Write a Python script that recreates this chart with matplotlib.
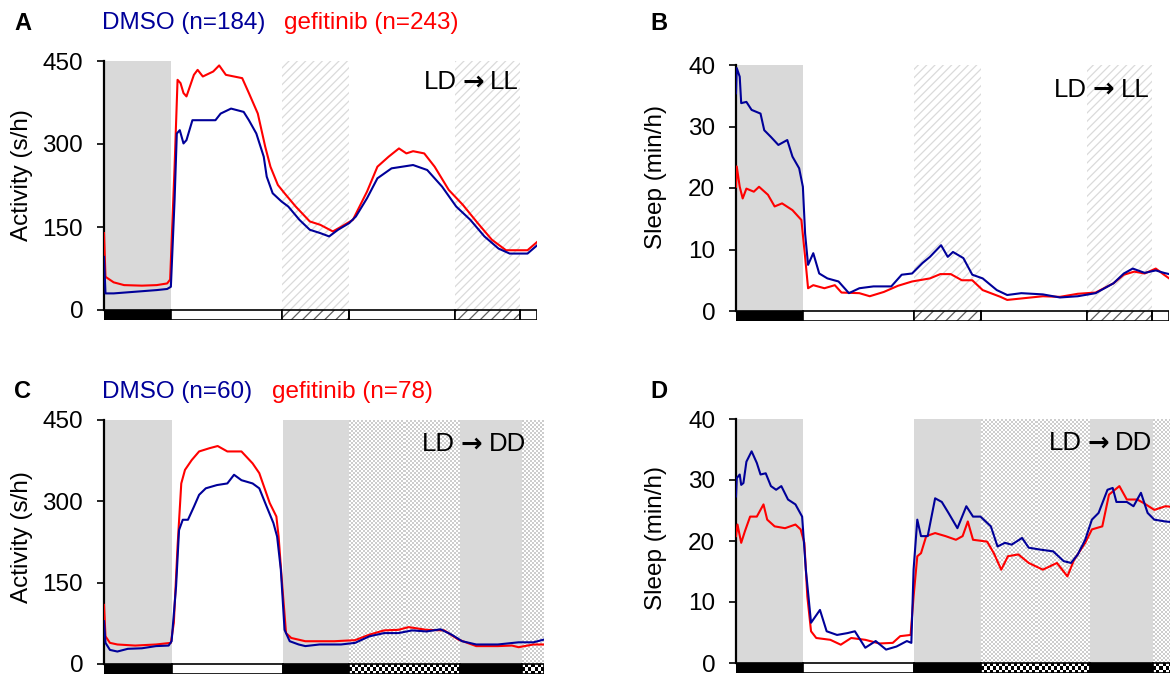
import numpy as np
import matplotlib.pyplot as plt
from matplotlib.patches import Rectangle
from matplotlib.colors import ListedColormap

plt.rcParams['font.family'] = ['Liberation Sans', 'DejaVu Sans']
plt.rcParams['hatch.linewidth'] = 0.9

W, H = 1170, 677
PXH = 7.43  # pixels per hour on the time axis
DMSO_C = '#000099'
GEF_C = '#ff0000'
GRAY = '#d9d9d9'
FS = 17.5

# ---- light regime segments (hours) ----
ll_bounds = [0, 9, 24, 33, 47.2, 56, 58.3]
ll_kinds = ['dark', 'light', 'subj_night', 'light', 'subj_night', 'light']
dd_bounds_c = [0, 9.1, 24.1, 33, 47.9, 56.3, 59.2]
dd_bounds_d = [0, 9, 24, 33, 47.6, 56.1, 59.5]
dd_kinds = ['dark', 'light', 'dark', 'subj_day', 'dark', 'subj_day']

# ---- A: activity, LD -> LL ----
a_t_dmso = [0, 0.2, 1.3, 4.2, 7.1, 8.5, 9.0, 9.5, 9.8, 10.2, 10.7, 11.1, 11.9, 15.0, 15.7,
            17.1, 18.8, 19.5, 20.5, 21.5, 21.9, 22.7, 23.9, 24.8, 26.3, 27.7, 29.1, 30.3,
            31.5, 33.0, 33.9, 35.4, 36.8, 38.7, 41.6, 43.5, 45.5, 47.4, 49.3, 51.2, 53.1,
            54.6, 57.0, 58.3]
a_dmso = [96, 30, 30, 33, 36, 38, 42, 199, 319, 325, 301, 307, 343, 343, 355, 364, 358, 343,
          319, 277, 241, 211, 196, 187, 163, 145, 139, 133, 145, 157, 169, 202, 238, 256, 262,
          253, 223, 187, 163, 133, 111, 102, 102, 117]
a_t_gef = [0, 0.2, 1.3, 2.7, 5.1, 7.1, 8.5, 8.9, 9.5, 9.9, 10.3, 10.7, 11.1, 12.1, 12.6, 13.3,
           14.7, 15.5, 16.4, 18.6, 19.5, 20.7, 21.7, 22.4, 23.4, 24.3, 25.8, 27.7, 29.1, 30.8,
           32.0, 33.5, 35.4, 36.8, 38.3, 39.7, 40.7, 41.6, 43.1, 44.5, 46.4, 48.3, 50.3, 52.2,
           54.1, 57.0, 58.3]
a_gef = [139, 60, 50, 45, 44, 45, 48, 55, 259, 416, 410, 392, 386, 425, 434, 422, 431, 442,
         425, 419, 392, 355, 295, 259, 226, 211, 187, 160, 154, 142, 151, 163, 214, 259, 277,
         292, 283, 287, 283, 259, 217, 190, 157, 127, 108, 108, 123]

# ---- B: sleep, LD -> LL ----
b_t_dmso = [0, 0.1, 0.5, 0.7, 1.4, 2.1, 3.3, 3.8, 4.7, 5.7, 6.9, 7.6, 8.5, 9.0, 9.3, 9.7, 10.4,
            11.2, 12.3, 13.8, 15.2, 16.6, 18.5, 20.9, 22.3, 23.7, 25.1, 26.1, 27.6, 28.5, 29.2,
            30.6, 31.8, 33.2, 35.1, 36.5, 38.4, 41.3, 43.6, 46.0, 48.4, 50.8, 52.2, 53.4, 55.0,
            56.5, 57.6, 58.3]
b_dmso = [35.4, 39.5, 38.1, 33.8, 34.0, 32.7, 32.1, 29.4, 28.3, 27.0, 27.8, 25.1, 23.2, 20.2,
          12.6, 7.5, 9.4, 6.1, 5.3, 4.8, 2.9, 3.7, 4.0, 4.0, 5.9, 6.1, 7.8, 8.8, 10.7, 8.8, 9.6,
          8.6, 5.9, 5.3, 3.4, 2.6, 2.9, 2.7, 2.2, 2.4, 2.9, 4.5, 6.1, 6.9, 6.2, 6.6, 6.2, 6.0]
b_t_gef = [0, 0.1, 0.5, 0.9, 1.4, 2.4, 3.1, 4.3, 5.2, 6.2, 7.6, 8.8, 9.3, 9.7, 10.4, 11.9, 13.3,
           14.2, 16.6, 18.0, 19.9, 21.8, 23.7, 26.1, 27.5, 28.9, 30.4, 31.8, 33.2, 35.6, 36.5,
           38.9, 41.3, 43.6, 46.0, 48.4, 50.8, 52.2, 53.6, 55.0, 56.5, 57.6, 58.3]
b_gef = [20.2, 23.5, 20.2, 18.3, 19.9, 19.4, 20.2, 18.9, 17.0, 17.5, 16.4, 14.8, 8.8, 3.7, 4.2,
         3.7, 4.2, 3.0, 2.9, 2.4, 3.1, 4.1, 4.8, 5.3, 6.0, 6.0, 5.0, 5.0, 3.4, 2.3, 1.8, 2.1,
         2.4, 2.3, 2.8, 3.0, 4.5, 5.9, 6.4, 6.1, 6.9, 5.9, 5.3]

# ---- C: activity, LD -> DD ----
c_t_dmso = [0, 0.2, 0.8, 1.8, 3.2, 5.1, 7.0, 8.7, 9.1, 9.7, 10.1, 10.6, 11.3, 12.1, 12.8, 13.7,
            15.2, 16.6, 17.5, 18.5, 20.0, 20.9, 21.9, 22.8, 23.3, 23.8, 24.3, 25.0, 26.2, 27.1,
            29.0, 31.9, 33.8, 35.7, 37.7, 39.6, 41.5, 43.4, 45.3, 46.8, 48.2, 50.1, 53.0, 55.8,
            57.8, 59.2]
c_dmso = [79, 39, 26, 23, 28, 29, 33, 34, 42, 143, 247, 266, 266, 290, 312, 324, 330, 333, 349,
          339, 333, 324, 290, 260, 235, 174, 63, 42, 36, 33, 36, 36, 39, 51, 57, 57, 62, 60, 64,
          54, 42, 36, 36, 40, 40, 45]
c_t_gef = [0, 0.2, 0.8, 1.8, 4.2, 7.0, 9.0, 9.4, 9.9, 10.4, 10.9, 11.8, 12.8, 14.2, 15.3, 16.6,
           18.5, 20.0, 20.9, 22.3, 23.2, 23.5, 24.0, 24.5, 25.2, 27.1, 31.0, 33.8, 35.7, 37.7,
           39.6, 41.0, 43.4, 45.8, 47.7, 50.1, 53.0, 54.9, 55.8, 57.8, 59.2]
c_gef = [109, 51, 39, 36, 34, 36, 39, 76, 217, 333, 358, 376, 392, 398, 402, 392, 392, 370, 352,
         297, 272, 235, 143, 57, 48, 42, 42, 44, 54, 62, 63, 68, 63, 62, 45, 33, 33, 34, 31, 36,
         36]

# ---- D: sleep, LD -> DD ----
d_t_dmso = [0, 0.1, 0.5, 0.7, 1.0, 1.4, 2.1, 2.8, 3.3, 4.0, 4.7, 5.4, 6.1, 7.0, 8.0, 8.9, 9.4,
            10.1, 11.3, 12.2, 13.6, 15.0, 16.0, 17.4, 18.8, 20.2, 21.6, 23.0, 23.6, 23.9, 24.4,
            24.9, 25.8, 26.8, 27.7, 28.6, 29.8, 31.0, 31.9, 32.9, 34.3, 35.2, 36.2, 37.1, 38.5,
            39.4, 40.9, 42.7, 44.1, 45.1, 46.0, 47.0, 47.9, 48.8, 50.0, 50.7, 51.2, 52.6, 53.5,
            54.5, 55.4, 56.3, 57.8, 59.5]
d_dmso = [27.3, 30.3, 30.9, 29.2, 29.5, 33.0, 34.7, 32.8, 30.9, 31.1, 29.0, 28.4, 29.0, 26.8,
          26.0, 24.0, 15.3, 6.6, 8.7, 5.2, 4.6, 4.9, 5.2, 2.5, 3.6, 2.2, 2.7, 3.6, 3.3, 15.3,
          23.5, 20.8, 20.8, 27.0, 26.4, 24.6, 22.1, 25.7, 24.0, 24.0, 22.4, 19.1, 19.7, 19.4,
          20.5, 18.9, 18.6, 18.3, 16.7, 16.4, 17.8, 20.2, 23.5, 24.6, 28.4, 28.7, 26.4, 26.4,
          25.7, 27.9, 24.6, 23.5, 23.2, 23.0]
d_t_gef = [0, 0.2, 0.7, 1.2, 1.9, 2.8, 3.7, 4.2, 5.2, 6.6, 8.0, 8.7, 9.2, 9.6, 10.1, 10.8, 12.7,
           14.1, 15.5, 17.4, 19.3, 21.1, 22.1, 23.5, 23.9, 24.4, 24.9, 25.6, 26.8, 28.2, 29.6,
           30.5, 31.2, 31.9, 33.8, 34.7, 35.7, 36.6, 38.0, 39.4, 41.3, 43.2, 44.6, 45.5, 47.0,
           47.9, 49.3, 50.2, 51.6, 52.6, 54.0, 54.9, 56.3, 57.8, 59.5]
d_gef = [20.8, 22.7, 19.7, 21.6, 24.0, 24.0, 26.0, 23.5, 22.4, 22.1, 22.7, 21.9, 19.7, 10.9,
         5.2, 4.1, 3.8, 3.0, 4.1, 3.8, 3.2, 3.3, 4.4, 4.6, 10.9, 17.5, 18.0, 20.8, 21.3, 20.8,
         20.2, 20.8, 23.2, 20.2, 19.9, 18.0, 15.3, 17.5, 17.8, 16.4, 15.3, 16.4, 14.2, 16.9,
         19.7, 21.9, 22.4, 27.6, 29.0, 26.8, 26.8, 26.2, 25.1, 25.7, 25.5]

fig = plt.figure(figsize=(W / 100, H / 100), dpi=100)


def checker(ax, x0, x1, y0, y1, ncols, nrows, colors, z):
    arr = np.indices((max(nrows, 1), max(ncols, 1))).sum(axis=0) % 2
    ax.imshow(arr, cmap=ListedColormap(colors), vmin=0, vmax=1, extent=(x0, x1, y0, y1),
              aspect='auto', interpolation='nearest', origin='lower', zorder=z)


def regime_label(ax, x, y, left, right):
    # "LD -> LL" built from three pieces so the arrow can be heavier
    ax.annotate('\u2192', (x, y), ha='center', va='center', fontsize=FS + 1,
                family=['DejaVu Sans'], fontweight='bold')
    ax.annotate(left, (x, y), xytext=(-12, 0), textcoords='offset points',
                ha='right', va='center', fontsize=FS + 1)
    ax.annotate(right, (x, y), xytext=(12, 0), textcoords='offset points',
                ha='left', va='center', fontsize=FS + 1)


def panel(left, top, zero, bot, xmax, ymax, ticks, bounds, kinds, series, lab_x, lab_y, right_txt):
    hpx = zero - top
    barh = (bot - zero) / hpx * ymax
    ax = fig.add_axes([left / W, 1 - bot / H, xmax * PXH / W, (bot - top) / H])
    for x0, x1, k in zip(bounds[:-1], bounds[1:], kinds):
        wpx = (x1 - x0) * PXH
        if k == 'dark':
            ax.add_patch(Rectangle((x0, 0), x1 - x0, ymax, facecolor=GRAY, lw=0, zorder=0))
            ax.add_patch(Rectangle((x0, -barh), x1 - x0, barh, facecolor='black',
                                   edgecolor='black', lw=1.2, zorder=4))
        elif k == 'light':
            ax.add_patch(Rectangle((x0, -barh), x1 - x0, barh, facecolor='white',
                                   edgecolor='black', lw=1.2, zorder=4))
        elif k == 'subj_night':
            ax.add_patch(Rectangle((x0, 0), x1 - x0, ymax, facecolor='white',
                                   edgecolor='#dadada', hatch='////', lw=0, zorder=0))
            ax.add_patch(Rectangle((x0, -barh), x1 - x0, barh, facecolor='white',
                                   edgecolor='#606060', hatch='///', lw=0, zorder=4))
            ax.add_patch(Rectangle((x0, -barh), x1 - x0, barh, fill=False,
                                   edgecolor='black', lw=1.2, zorder=5))
        elif k == 'subj_day':
            checker(ax, x0, x1, 0, ymax, int(round(wpx / 2)), int(round(hpx / 2)),
                    ['white', '#cdcdcd'], 0)
            checker(ax, x0, x1, -barh, 0, int(round(wpx / 3)), 3, ['white', 'black'], 4)
            ax.add_patch(Rectangle((x0, -barh), x1 - x0, barh, fill=False,
                                   edgecolor='black', lw=1.2, zorder=5))
    for t, v, c in series:
        ax.plot(t, v, color=c, lw=1.5, zorder=3)
    ax.set_xlim(0, xmax)
    ax.set_ylim(-barh, ymax)
    ax.set_xticks([])
    ax.set_yticks(ticks)
    ax.tick_params(axis='y', length=5, width=1.2, pad=10, labelsize=FS)
    for s in ['top', 'right', 'bottom']:
        ax.spines[s].set_visible(False)
    ax.spines['left'].set_bounds(0, ymax)
    ax.spines['left'].set_linewidth(1.6)
    regime_label(ax, lab_x, lab_y * ymax, 'LD', right_txt)
    return ax


panel(104, 61, 310, 320, 58.3, 450, [0, 150, 300, 450], ll_bounds, ll_kinds,
      [(a_t_gef, a_gef, GEF_C), (a_t_dmso, a_dmso, DMSO_C)], 49.7, 0.915, 'LL')
panel(736, 65, 311, 321, 58.3, 40, [0, 10, 20, 30, 40], ll_bounds, ll_kinds,
      [(b_t_gef, b_gef, GEF_C), (b_t_dmso, b_dmso, DMSO_C)], 49.5, 0.9, 'LL')
panel(104, 420, 664, 674, 59.2, 450, [0, 150, 300, 450], dd_bounds_c, dd_kinds,
      [(c_t_gef, c_gef, GEF_C), (c_t_dmso, c_dmso, DMSO_C)], 49.5, 0.9, 'DD')
panel(736, 419, 663, 673, 59.5, 40, [0, 10, 20, 30, 40], dd_bounds_d, dd_kinds,
      [(d_t_gef, d_gef, GEF_C), (d_t_dmso, d_dmso, DMSO_C)], 48.8, 0.9, 'DD')


def ftext(x, y, s, **kw):
    fig.text(x / W, 1 - y / H, s, va='center', **kw)


ftext(14, 24, 'A', fontsize=17, fontweight='bold')
ftext(650, 24, 'B', fontsize=17, fontweight='bold')
ftext(14, 391, 'C', fontsize=17, fontweight='bold')
ftext(650, 391, 'D', fontsize=17, fontweight='bold')
ftext(102, 23, 'DMSO (n=184)', color=DMSO_C, fontsize=FS)
ftext(284, 23, 'gefitinib (n=243)', color=GEF_C, fontsize=FS)
ftext(102, 392, 'DMSO (n=60)', color=DMSO_C, fontsize=FS)
ftext(272, 392, 'gefitinib (n=78)', color=GEF_C, fontsize=FS)
ftext(22, 175, 'Activity (s/h)', rotation=90, ha='center', fontsize=FS)
ftext(22, 537, 'Activity (s/h)', rotation=90, ha='center', fontsize=FS)
ftext(656, 177, 'Sleep (min/h)', rotation=90, ha='center', fontsize=FS)
ftext(656, 538, 'Sleep (min/h)', rotation=90, ha='center', fontsize=FS)

fig.savefig('out.png', dpi=100)
